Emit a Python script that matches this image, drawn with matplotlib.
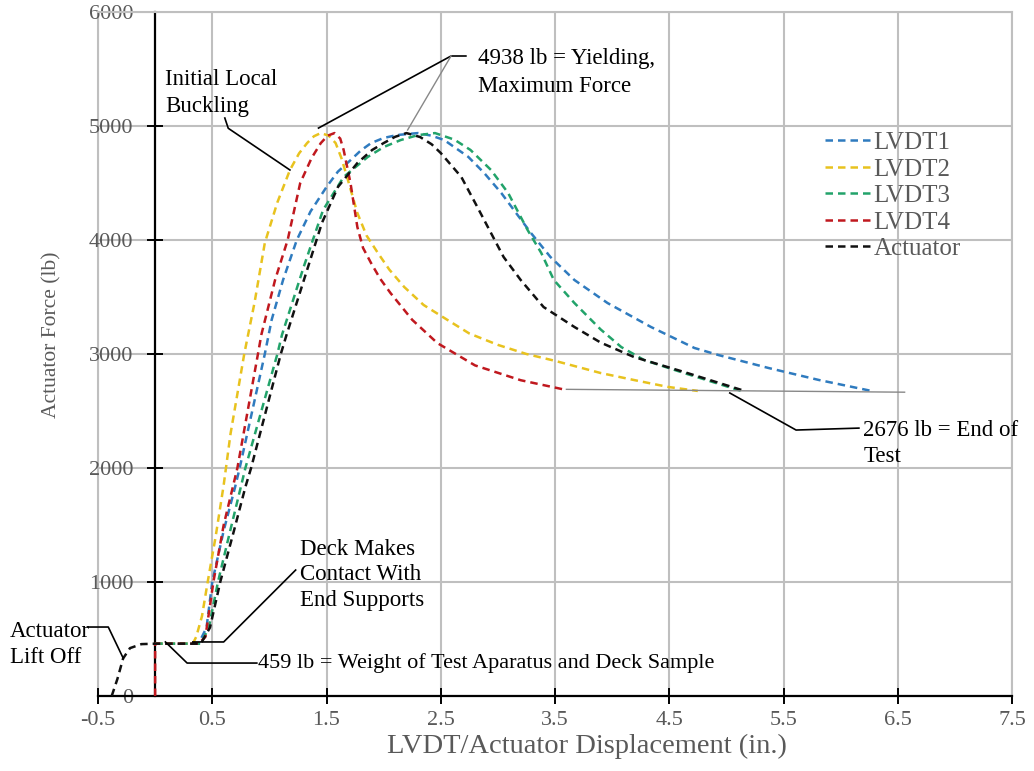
import numpy as np
import matplotlib.pyplot as plt

# force-displacement readings (in., lb)
lvdt1_x = [0.0, 0.38, 0.45, 0.50, 0.60, 0.70, 0.74, 0.85, 0.96, 1.02, 1.12, 1.24, 1.36, 1.50, 1.60, 1.71, 1.80,
           1.89, 2.00, 2.12, 2.30, 2.42, 2.53, 2.74, 2.88, 3.03, 3.14, 3.29, 3.46, 3.67, 3.96, 4.34, 4.72, 4.93,
           5.37, 5.81, 6.27]
lvdt1_y = [459, 459, 600, 1000, 1450, 1833, 2000, 2500, 3000, 3300, 3650, 4000, 4250, 4465, 4600, 4700, 4785,
           4850, 4895, 4921, 4938, 4915, 4877, 4730, 4588, 4412, 4263, 4061, 3851, 3649, 3447, 3237, 3053, 2991,
           2877, 2772, 2676]

lvdt2_x = [0.0, 0.33, 0.36, 0.41, 0.46, 0.53, 0.60, 0.66, 0.72, 0.78, 0.87, 0.96, 1.07, 1.18, 1.26, 1.33, 1.39,
           1.45, 1.52, 1.58, 1.63, 1.68, 1.77, 1.85, 1.95, 2.05, 2.18, 2.35, 2.56, 2.75, 3.00, 3.25, 3.50, 3.90,
           4.20, 4.49, 4.75]
lvdt2_y = [459, 459, 520, 700, 1000, 1400, 1850, 2300, 2650, 3000, 3450, 3974, 4330, 4614, 4760, 4850, 4910,
           4938, 4915, 4850, 4720, 4553, 4237, 4040, 3886, 3740, 3588, 3430, 3298, 3180, 3080, 3000, 2940, 2833,
           2770, 2711, 2676]

lvdt3_x = [0.0, 0.40, 0.47, 0.55, 0.65, 0.75, 0.79, 0.93, 1.07, 1.11, 1.30, 1.47, 1.65, 1.86, 2.00, 2.15, 2.30,
           2.45, 2.62, 2.76, 2.94, 3.09, 3.26, 3.38, 3.49, 3.67, 3.90, 4.08, 4.28, 4.63, 5.13]
lvdt3_y = [459, 459, 600, 1000, 1420, 1833, 2000, 2500, 3000, 3167, 3763, 4263, 4553, 4728, 4815, 4877, 4920,
           4938, 4880, 4790, 4614, 4412, 4088, 3886, 3649, 3447, 3215, 3061, 2947, 2833, 2676]

lvdt4_x = [0.0, 0.0, 0.38, 0.44, 0.51, 0.60, 0.68, 0.72, 0.81, 0.90, 0.93, 1.05, 1.16, 1.27, 1.37, 1.45, 1.51,
           1.57, 1.62, 1.65, 1.71, 1.77, 1.82, 1.89, 1.97, 2.06, 2.25, 2.47, 2.80, 3.20, 3.60]
lvdt4_y = [0, 459, 459, 518, 1000, 1500, 1833, 2000, 2500, 3000, 3170, 3650, 4000, 4500, 4720, 4850, 4915,
           4938, 4890, 4790, 4500, 4114, 3930, 3798, 3660, 3535, 3300, 3096, 2900, 2770, 2684]

act_x = [-0.38, -0.33, -0.28, -0.22, -0.12, 0.0, 0.40, 0.48, 0.57, 0.69, 0.79, 0.84, 0.97, 1.10, 1.15, 1.33,
         1.46, 1.60, 1.77, 1.90, 2.00, 2.10, 2.20, 2.32, 2.42, 2.50, 2.68, 2.82, 2.94, 3.05, 3.20, 3.40, 3.67,
         3.90, 4.19, 4.63, 5.16]
act_y = [0, 150, 330, 420, 455, 459, 459, 600, 1000, 1450, 1833, 2000, 2500, 3000, 3167, 3737,
         4150, 4465, 4675, 4790, 4850, 4905, 4938, 4903, 4840, 4763, 4553, 4290, 4061, 3851, 3649, 3412, 3237,
         3100, 2974, 2842, 2676]

series = [
    ("LVDT1", lvdt1_x, lvdt1_y, "#2f7bbf"),
    ("LVDT2", lvdt2_x, lvdt2_y, "#e8c21e"),
    ("LVDT3", lvdt3_x, lvdt3_y, "#22a36a"),
    ("LVDT4", lvdt4_x, lvdt4_y, "#c0181e"),
    ("Actuator", act_x, act_y, "#111111"),
]

# callout leaders
buckle_lead = ([0.61, 0.64, 1.18], [5070, 4980, 4614])
yield_lead = ([2.72, 2.59, 1.43], [5614, 5614, 4982])
yield_lead2 = ([2.59, 2.21], [5614, 4965])
end_line = ([3.6, 6.56], [2690, 2665])
end_lead = ([6.16, 5.61, 5.03], [2350, 2333, 2658])
deck_lead = ([1.23, 0.60, 0.33], [1105, 474, 474])
weight_lead = ([0.89, 0.28, 0.09], [289, 289, 474])
lift_lead = ([-0.59, -0.41, -0.28], [605, 605, 333])

plt.rcParams['font.family'] = ['Liberation Serif', 'DejaVu Serif']
gray = "#595959"
grid_c = "#bfbfbf"

fig = plt.figure(figsize=(10.34, 7.71), dpi=100)
ax = fig.add_axes([98 / 1034, 1 - 696 / 771, (1012 - 98) / 1034, (696 - 12) / 771])

for name, xs, ys, c in series:
    ax.plot(xs, ys, color=c, lw=1.8, ls=(0, (3, 2)), label=name, zorder=3)

ax.set_xlim(-0.5, 7.5)
ax.set_ylim(0, 6000)
ax.set_xticks(np.arange(-0.5, 7.6, 1.0))
ax.set_xticklabels(["-0.5", "0.5", "1.5", "2.5", "3.5", "4.5", "5.5", "6.5", "7.5"])
ax.set_yticks(np.arange(0, 6001, 1000))
ax.grid(True, color=grid_c, lw=1.5, zorder=0)
ax.axvline(-0.5, color=grid_c, lw=1.5, clip_on=False, zorder=0)

ax.spines['left'].set_position(('data', 0))
ax.spines['left'].set_linewidth(1.6)
ax.spines['bottom'].set_linewidth(1.6)
for s in ('top', 'right'):
    ax.spines[s].set_color(grid_c)
    ax.spines[s].set_linewidth(1.5)

ax.tick_params(axis='both', direction='inout', length=11, width=1.4, colors='black',
               labelcolor=gray, labelsize=16)
ax.tick_params(axis='y', pad=10)
ax.tick_params(axis='x', pad=5)

ax.set_xlabel("LVDT/Actuator Displacement (in.)", fontsize=20.5, color=gray)
ax.xaxis.set_label_coords(0.535, -0.056)
ax.set_ylabel("Actuator Force (lb)", fontsize=15.5, color=gray)
ax.yaxis.set_label_coords(-0.04, 0.528)

ax.legend(loc='upper left', bbox_to_anchor=(0.795, 0.825), frameon=False, fontsize=18,
          labelcolor=gray, handlelength=1.8, handletextpad=0.15, labelspacing=0.16,
          borderpad=0, borderaxespad=0)

# callouts
lead_kw = dict(color='black', lw=1.2, zorder=4, clip_on=False)
ax.plot(*buckle_lead, **lead_kw)
ax.plot(*yield_lead, **lead_kw)
ax.plot(*yield_lead2, color='#888888', lw=1.0, zorder=4)
ax.plot(*end_line, color='#888888', lw=1.0, zorder=4)
ax.plot(*end_lead, **lead_kw)
ax.plot(*deck_lead, **lead_kw)
ax.plot(*weight_lead, **lead_kw)
ax.plot(*lift_lead, **lead_kw)

txt_kw = dict(color='black', ha='left', zorder=5)
ax.text(0.09, 5500, "Initial Local\nBuckling", va='top', linespacing=1.35, fontsize=16.5, **txt_kw)
ax.text(2.83, 5680, "4938 lb = Yielding,\nMaximum Force", va='top', linespacing=1.4, fontsize=16.5, **txt_kw)
ax.text(6.2, 2420, "2676 lb = End of\nTest", va='top', linespacing=1.3, fontsize=16.5, **txt_kw)
ax.text(1.27, 1380, "Deck Makes\nContact With\nEnd Supports", va='top', linespacing=1.3, fontsize=16.5,
        **txt_kw)
ax.text(0.9, 289, "459 lb = Weight of Test Aparatus and Deck Sample", va='center', fontsize=16, **txt_kw)
ax.text(-1.27, 660, "Actuator\nLift Off", va='top', linespacing=1.3, fontsize=16.5, clip_on=False, **txt_kw)

fig.savefig("out.png", dpi=100)
